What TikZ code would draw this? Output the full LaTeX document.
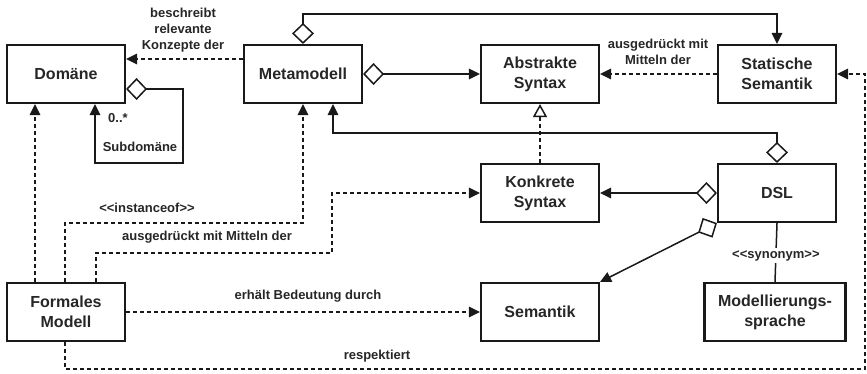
\documentclass[tikz,border=0pt]{standalone}
\usepackage{fontspec}
\setmainfont{Liberation Sans}
\usetikzlibrary{arrows.meta}
\begin{document}
\begin{tikzpicture}[x=1pt,y=-1pt,
  box/.style={draw=black!90, line width=2.1pt, minimum width=118pt, minimum height=58pt,
    inner sep=2pt, align=center, font=\fontsize{16}{20}\selectfont\bfseries, text=black!85},
  lbl/.style={align=center, font=\fontsize{13}{16}\selectfont\bfseries, text=black!85, inner sep=1pt},
  conn/.style={line width=1.5pt, draw=black!90},
  tip/.tip={Triangle[length=11pt,width=10.5pt]},
  dia/.tip={Diamond[length=21pt,width=22pt,fill=white]},
  dep/.style={conn, dash pattern=on 4pt off 3pt, -tip},
  agg/.style={conn, dia-tip},
  real/.style={conn, dash pattern=on 4pt off 3pt, -{Triangle[length=13pt,width=14pt,fill=white]}},
  plain/.style={conn}
]
\useasboundingbox (0,0) rectangle (867,373);

% classes
\node[box] (dom)  at (66,74)   {Domäne};
\node[box] (meta) at (303,74)  {Metamodell};
\node[box] (abs)  at (540,74)  {Abstrakte\\Syntax};
\node[box] (stat) at (777,74)  {Statische\\Semantik};
\node[box] (kon)  at (540,193) {Konkrete\\Syntax};
\node[box] (dsl)  at (777,193) {DSL};
\node[box] (sem)  at (540,312) {Semantik};
\node[box, minimum width=141pt] (mod) at (775,312) {Modellierungs-\\sprache};
\node[box] (fm)   at (66,312)  {Formales\\Modell};

% Metamodell describes the domain
\draw[dep] (meta.west |- 0,59) -- (dom.east |- 0,59);
\node[lbl] (l1) at (183,30) {beschreibt\\relevante\\Konzepte der};

% sub-domains
\draw[agg] (dom.east |- 0,89) -- (183,89) -- (183,163) -- (95,163) -- (95,0 |- dom.south);
\node[lbl] (l2) at (118,118) {0..*};
\node[lbl] (l3) at (140,147) {Subdomäne};

% Metamodell parts
\draw[agg] (meta.east) -- (abs.west);
\draw[agg] (meta.north) -- (303,14) -- (stat.north |- 0,14) -- (stat.north);

% static semantics
\draw[dep] (stat.west) -- (abs.east);
\node[lbl] (l4) at (658,52) {ausgedrückt mit\\Mitteln der};

% concrete syntax realises abstract syntax
\draw[real] (kon.north) -- (abs.south);

% DSL parts
\draw[agg] (dsl.north) -- (777,133) -- (333,133) -- (333,0 |- meta.south);
\draw[agg] (dsl.west) -- (kon.east);
\draw[agg] (dsl.south west) -- (sem.north east);
\draw[plain] (dsl.south) -- (mod.north)
  node[lbl, pos=0.55, fill=white, inner sep=2pt] (l5) {<\kern0pt<synonym>\kern0pt>};

% formal model
\draw[dep] (35,0 |- fm.north) -- (35,0 |- dom.south);
\draw[dep] (65,0 |- fm.north) -- (65,223) -- (303,223) -- (meta.south);
\node[lbl] (l6) at (147,208) {<\kern0pt<instanceof>\kern0pt>};
\draw[dep] (96,0 |- fm.north) -- (96,253) -- (332,253) -- (332,193) -- (kon.west);
\node[lbl] (l7) at (207,237) {ausgedrückt mit Mitteln der};
\draw[dep] (fm.east) -- (sem.west);
\node[lbl] (l8) at (308,296) {erhält Bedeutung durch};
\draw[dep] (65,0 |- fm.south) -- (65,369) -- (865,369) -- (865,74) -- (stat.east);
\node[lbl] (l9) at (377,356) {respektiert};
\end{tikzpicture}
\end{document}
